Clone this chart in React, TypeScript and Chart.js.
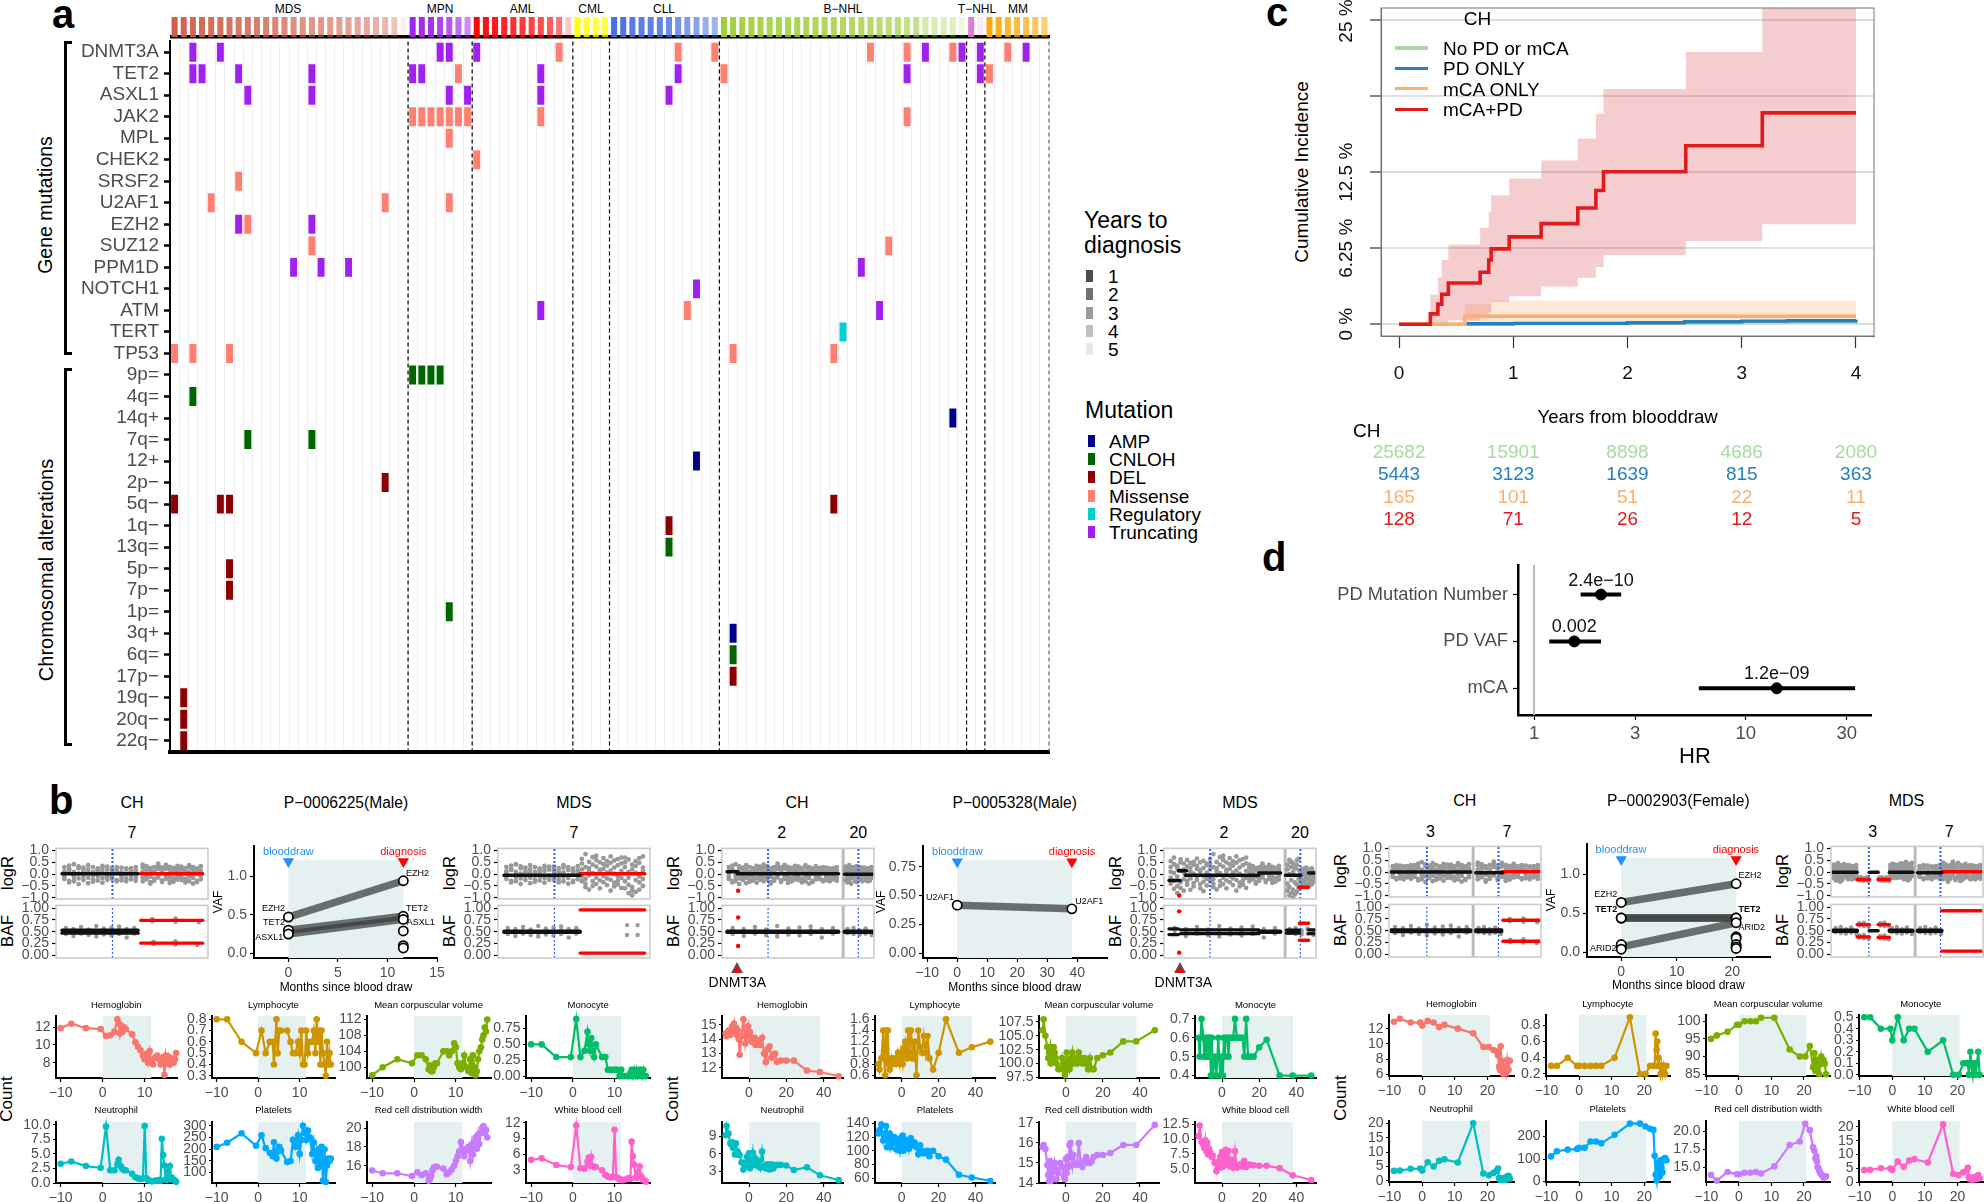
import React, { useEffect, useRef } from "react";
import { Chart, registerables } from "chart.js";

Chart.register(...registerables);

const FONT = '"Liberation Sans", Arial, sans-serif';
Chart.defaults.font.family = FONT;
const GREY = "#4d4d4d";

/* ---------- panel a data ---------- */
const geneRows = ["DNMT3A", "TET2", "ASXL1", "JAK2", "MPL", "CHEK2", "SRSF2", "U2AF1", "EZH2", "SUZ12", "PPM1D", "NOTCH1", "ATM", "TERT", "TP53"];
const chromRows = ["9p=", "4q=", "14q+", "7q=", "12+", "2p−", "5q−", "1q−", "13q=", "5p−", "7p−", "1p=", "3q+", "6q=", "17p−", "19q−", "20q−", "22q−"];
const truncating: any = {
  DNMT3A: [2, 5, 29, 30, 33, 82, 86, 88, 93], TET2: [2, 3, 7, 15, 26, 27, 40, 55, 80, 88], ASXL1: [8, 15, 30, 32, 40, 54],
  EZH2: [7, 15], PPM1D: [13, 16, 19, 75], NOTCH1: [57], ATM: [40, 77],
};
const missense: any = {
  DNMT3A: [42, 55, 59, 76, 80, 85, 91], TET2: [31, 60, 89], JAK2: [26, 27, 28, 29, 30, 31, 32, 40, 80], MPL: [30], CHEK2: [33],
  SRSF2: [7], U2AF1: [4, 23, 30], EZH2: [8], SUZ12: [15, 78], ATM: [56], TP53: [0, 2, 6, 61, 72],
};
const regulatory: any = { TERT: [73] };
const cnloh: any = { "9p=": [26, 27, 28, 29], "4q=": [2], "7q=": [8, 15], "13q=": [54], "1p=": [30], "6q=": [61] };
const amp: any = { "14q+": [85], "12+": [57], "3q+": [61] };
const del: any = {
  "2p−": [23], "5q−": [0, 5, 6, 72], "1q−": [54], "5p−": [6], "7p−": [6], "17p−": [61], "19q−": [1], "20q−": [1], "22q−": [1],
};
const groupNames = ["MDS", "MPN", "AML", "CML", "CLL", "B−NHL", "T−NHL", "MM"];
const groupLabelX = [288, 440, 522, 591, 664, 843, 977, 1018];
const groupBases = ["205,91,69", "160,32,240", "255,0,0", "255,255,0", "65,105,225", "154,205,50", "218,112,214", "255,165,0"];
const yearsMDS = [0.2, 0.3, 0.4, 0.5, 0.6, 0.7, 0.8, 0.9, 1.0, 1.1, 1.2, 1.3, 1.5, 1.6, 1.7, 1.8, 1.9, 2, 2.1, 2.2, 2.3, 2.4, 2.6, 2.8, 3.2, 4.6];
const yearsMPN = [0.1, 0.2, 0.4, 0.8, 1.2, 1.7, 2.4];
const yearsAML = [0.1, 0.3, 0.5, 0.7, 0.9, 1.1, 1.3, 1.5, 1.8, 2.3, 3.9];
const yearsCML = [0.2, 0.9, 1.2, 1.4];
const yearsCLL = [0.2, 0.4, 0.6, 0.7, 0.8, 0.9, 1.1, 1.4, 1.7, 1.9, 2.3, 2.5];
const yearsBNHL = [0.2, 0.4, 0.5, 0.6, 0.7, 0.75, 0.8, 0.85, 0.9, 0.95, 1, 1.05, 1.1, 1.15, 1.2, 1.3, 1.4, 1.5, 1.6, 1.7, 2, 2.1, 2.9, 3.1, 3.3, 3.5, 4.2];
const yearsTNHL = [0.4, 4.2];
const yearsMM = [0.1, 0.5, 0.9, 1.3, 1.6, 1.9, 2.2];
const groupYears = [yearsMDS, yearsMPN, yearsAML, yearsCML, yearsCLL, yearsBNHL, yearsTNHL, yearsMM];
const yearLegend = ["1", "2", "3", "4", "5"];
const yearLegendColors = ["#4d4d4d", "#707070", "#9a9a9a", "#c0c0c0", "#e8e8e8"];
const mutLegend = ["AMP", "CNLOH", "DEL", "Missense", "Regulatory", "Truncating"];
const mutColors = ["#00008B", "#006400", "#8B0000", "#FF8070", "#00CED1", "#A020F0"];

/* ---------- panel c data ---------- */
const kmRedT = [0, 0.274, 0.34, 0.374, 0.432, 0.71, 0.785, 0.806, 0.964, 1.244, 1.565, 1.723, 1.79, 2.51, 3.18, 4];
const kmRedEst = [0, 0.85, 1.65, 2.46, 3.39, 4.27, 5.28, 6.2, 7.18, 8.27, 9.56, 11.0, 12.54, 14.68, 17.38, 17.38];
const kmRedUp = [0, 2.42, 3.87, 5.28, 6.53, 7.94, 9.27, 10.6, 11.98, 13.47, 15.28, 17.3, 19.35, 22.4, 30, 30];
const kmRedLo = [0, 0, 0, 0.05, 0.3, 0.5, 1, 1.85, 2.3, 3.1, 3.83, 4.7, 5.69, 6.85, 8.23, 8.23];
const kmOrangeT = [0, 0.575, 0.8, 4];
const kmOrangeEst = [0, 0.65, 0.65, 0.65];
const kmOrangeUp = [0, 1.65, 1.95, 1.95];
const kmOrangeLo = [0, 0.1, 0.1, 0.1];
const kmBlueT = [0.59, 1, 2, 2.5, 3, 3.4, 4];
const kmBlueEst = [0.04, 0.07, 0.12, 0.2, 0.25, 0.28, 0.36];
const kmGreenT = [0, 0.5, 1, 2, 3, 4];
const kmGreenEst = [0, 0.02, 0.05, 0.1, 0.18, 0.25];
const kmTicksX = [0, 1, 2, 3, 4];
const kmTicksY = [0, 6.25, 12.5, 18.75, 25];
const kmLabelsY: [number, string][] = [[0, "0 %"], [6.25, "6.25 %"], [12.5, "12.5 %"], [25, "25 %"]];
const kmNames = ["No PD or mCA", "PD ONLY", "mCA ONLY", "mCA+PD"];
const kmColors = ["#A6DBA0", "#2480BE", "#FDAE6B", "#E31A1C"];
const riskGreen = ["25682", "15901", "8898", "4686", "2080"];
const riskBlue = ["5443", "3123", "1639", "815", "363"];
const riskOrange = ["165", "101", "51", "22", "11"];
const riskRed = ["128", "71", "26", "12", "5"];

/* ---------- panel d data ---------- */
const forestNames = ["PD Mutation Number", "PD VAF", "mCA"];
const forestHR = [2.07, 1.55, 13.99];
const forestLow = [1.66, 1.18, 6.0];
const forestHigh = [2.58, 2.07, 32.8];
const forestP = ["2.4e−10", "0.002", "1.2e−09"];
const forestTicks = [1, 3, 10, 30];

/* ---------- panel b: copy-number scatter ---------- */
const quietA = [0.12, -0.2, 0.3, -0.1, 0.05, 0.36, -0.28, 0.18, -0.35, 0.22, -0.05, 0.1, 0.42, -0.12, -0.3, 0.25, 0.02, -0.18, 0.33, -0.42, 0.08, -0.25, 0.15, 0.28, -0.08, -0.38, 0.2, 0.05, -0.15, 0.38, -0.22, 0.1, -0.03, 0.3, -0.32, 0.17, -0.1, 0.24, -0.27, 0.06, 0.35, -0.16, 0.13, -0.36, 0.27, -0.06, 0.19, -0.24, 0.32, -0.13];
const quietB = [-0.15, 0.28, 0.1, -0.3, 0.4, -0.08, 0.2, -0.22, 0.34, 0.03, -0.34, 0.16, -0.11, 0.26, -0.4, 0.07, 0.3, -0.19, 0.12, -0.28, 0.37, -0.04, 0.22, -0.14, 0.44, -0.26, 0.09, 0.29, -0.33, 0.14, -0.07, 0.24, -0.2, 0.39, 0.01, -0.29, 0.18, -0.12, 0.31, -0.37, 0.11, 0.27, -0.17, 0.06, -0.31, 0.35, -0.09, 0.21, -0.23, 0.15];
const quietC = [0.2, -0.25, 0.1, 0.32, -0.12, -0.35, 0.26, 0.04, -0.2, 0.15, 0.38, -0.3, 0.08, -0.1, 0.28, -0.4, 0.18, -0.05, 0.3, -0.16, 0.12, -0.28, 0.24, 0.02, -0.34, 0.34, -0.08, 0.16, -0.22, 0.06];
const wideA = [0.3, -0.4, 0.55, -0.15, 0.1, -0.62, 0.42, -0.28, 0.7, 0.05, -0.5, 0.25, -0.8, 0.36, -0.1, 0.5, -0.35, 0.62, 0.15, -0.58, 0.2, -0.22, 0.45, -0.7, 0.08, 0.33, -0.45, 0.6, -0.05, -0.3, 0.48, 0.12, -0.66, 0.28, -0.18, 0.52, -0.38, 0.02, 0.4, -0.52, 0.22, -0.12, 0.66, -0.25, 0.35, -0.6, 0.1, 0.5, -0.42, 0.18, -0.08, 0.56, -0.32, 0.26, -0.72, 0.44, 0.06, -0.2, 0.38, -0.48];
const wideB = [-0.3, 0.45, -0.1, 0.65, 0.2, -0.55, 0.3, -0.2, 0.85, -0.4, 0.12, 0.52, -0.65, 0.25, -0.05, 0.72, -0.3, 0.4, 0.04, -0.5, 0.6, -0.15, 0.32, -0.42, 0.78, 0.1, -0.26, 0.5, -0.6, 0.18, 0.42, -0.08, -0.34, 0.68, 0.22, -0.46, 0.06, 0.55, -0.18, 0.36, -0.7, 0.15, 0.48, -0.24, 0.75, -0.36, 0.02, 0.58, -0.52, 0.28, -0.1, 0.64, -0.28, 0.38, -0.44, 0.14, 0.7, -0.16, 0.46, -0.58];
const wideC = [0.5, -0.6, 0.3, -0.3, 0.7, -0.8, 0.1, -0.45, 0.62, -0.15, -0.7, 0.4, -0.9, 0.2, -0.55, 0.55, -0.25, -0.75, 0.35, 0.05, -0.65, 0.48, -0.35, 0.68, -0.1, 0.28, -0.5, 0.75, 0.15, -0.2];
const tightA = [0.1, -0.2, 0.25, -0.12, 0.05, 0.3, -0.25, 0.15, -0.3, 0.18, -0.05, 0.1, 0.28, -0.12, -0.26, 0.2, 0.02, -0.18, 0.24, -0.3, 0.08, -0.22, 0.12, 0.26, -0.08, -0.28, 0.16, 0.04, -0.15, 0.3];
const bafA = [0.03, -0.05, 0.08, -0.02, 0.06, -0.09, 0.01, 0.1, -0.04, 0.05, -0.07, 0.02, 0.12, -0.03, -0.1, 0.04, 0.07, -0.06, 0.09, -0.01, -0.08, 0.03, 0.11, -0.05, 0.06, -0.12, 0.02, 0.05, -0.04, 0.08];
const bafB = [0.04, -0.03, 0.06, -0.05, 0.02, 0.08, -0.02, -0.06, 0.03, 0.05, -0.04, 0.07, -0.01, -0.07];
const bafC = [0.02, -0.02, 0.03, -0.03, 0.01, 0.04, -0.01, -0.04];
const centromereP1 = [57];
const centromereP2 = [89, 285];
const centromereP3 = [89, 267];

/* ---------- panel b: VAF lines ---------- */
const vafP1Genes = ["EZH2", "TET2", "ASXL1"];
const vafP1Start = [0.47, 0.3, 0.25];
const vafP1End = [0.94, 0.48, 0.44];
const vafP1ExtraEnd = [0.29, 0.1, 0.07];
const vafP2Genes = ["U2AF1"];
const vafP2Start = [0.416];
const vafP2End = [0.384];
const vafP3Genes = ["EZH2", "TET2", "TET2", "ARID2"];
const vafP3Start = [0.64, 0.44, 0.44, 0.07];
const vafP3End = [0.88, 0.44, 0.44, 0.38];
const vafP3ExtraStart = [0.1, 0.04];
const vafP3ExtraEnd = [0.2, 0.18, 0.1, 0.07, 0.05];

/* ---------- panel b: blood counts ---------- */
const bloodNames = ["Hemoglobin", "Lymphocyte", "Mean corpuscular volume", "Monocyte", "Neutrophil", "Platelets", "Red cell distribution width", "White blood cell"];
const bloodColors = ["#F8766D", "#CD9600", "#7CAE00", "#00BE67", "#00BFC4", "#00A9FF", "#C77CFF", "#FF61CC"];

const monthsP1 = [-10, -7.5, -4, -0.5, 0.8, 1.8, 2.8, 3.5, 3.8, 4.1, 4.4, 4.7, 5.1, 5.5, 7, 7.8, 8.4, 9, 9.6, 10, 10.4, 10.8, 11.2, 11.6, 12, 12.5, 13, 13.4, 13.8, 14.1, 14.4, 14.7, 15, 15.3, 15.6, 16, 16.3, 16.6, 16.9, 17.2, 17.5];
const hbP1 = [11.9, 12.4, 11.9, 11.8, 11.0, 11.1, 11.5, 12.9, 12.4, 11.3, 12.2, 11.5, 12.0, 11.8, 11.2, 10.3, 9.8, 9.4, 8.8, 8.4, 9.0, 8.0, 9.3, 8.2, 7.8, 8.6, 8.8, 8.4, 7.8, 8.4, 8.6, 6.6, 8.8, 8.0, 8.7, 7.8, 8.5, 8.4, 8.0, 8.4, 9.1];
const lymP1 = [0.8, 0.8, 0.6, 0.5, 0.7, 0.5, 0.6, 0.6, 0.4, 0.6, 0.8, 0.5, 0.7, 0.7, 0.7, 0.6, 0.5, 0.5, 0.6, 0.5, 0.7, 0.4, 0.4, 0.7, 0.5, 0.6, 0.6, 0.7, 0.5, 0.8, 0.6, 0.7, 0.4, 0.7, 0.5, 0.4, 0.3, 0.6, 0.4, 0.5, 0.4];
const mcvP1 = [98, 100, 102, 101, 103, 103, 102, 99.5, 100.5, 99, 99, 100, 101, 101, 104, 104, 103, 104, 106, 105, 101, 100, 99.5, 101, 103, 100, 99, 102, 98.5, 103, 100, 98, 99, 102, 104, 105, 107, 108, 110, 109, 112];
const monoP1 = [0.5, 0.5, 0.3, 0.3, 0.9, 0.3, 0.4, 0.7, 0.5, 0.4, 0.6, 0.4, 0.3, 0.5, 0.3, 0.3, 0.1, 0.1, 0.1, 0.1, 0.1, 0.1, 0, 0.1, 0, 0, 0, 0, 0.05, 0.1, 0, 0.1, 0, 0.1, 0, 0.1, 0.1, 0, 0.1, 0, 0];
const neutP1 = [3.3, 3.7, 2.9, 2.6, 9.7, 2.2, 2.2, 3.2, 4.0, 3.0, 2.8, 2.4, 2.2, 2.2, 1.6, 1.0, 0.8, 0.7, 0.8, 9.8, 0.8, 0.5, 0.4, 0.3, 0.3, 0.4, 0.4, 0.5, 0.4, 7.6, 4.8, 3.0, 0.6, 0.5, 2.0, 2.9, 1, 0.8, 0.5, 0.4, 0.2];
const pltP1 = [210, 228, 268, 215, 260, 205, 185, 170, 230, 175, 160, 190, 210, 195, 145, 150, 240, 210, 260, 180, 240, 300, 270, 240, 280, 250, 180, 230, 150, 190, 120, 200, 130, 210, 65, 200, 60, 130, 160, 150, 160];
const rdwP1 = [15.5, 15.2, 15.2, 14.9, 15.3, 15.0, 15.2, 14.4, 14.6, 14.9, 15.5, 15.8, 15.9, 15.9, 15.7, 15.1, 15.3, 15.6, 16, 16.5, 17, 17.5, 18.5, 17.8, 17, 17.6, 18, 16.5, 18.3, 17.2, 18.5, 19, 17.8, 19.3, 18.3, 19.5, 20, 20.2, 19.5, 19.8, 19];
const wbcP1 = [4.9, 5.2, 3.9, 3.5, 11.5, 3.3, 3.2, 4.5, 5.3, 3.8, 5.5, 3.7, 3.5, 3.5, 2.9, 2, 1.7, 1.5, 1.6, 10.7, 1.6, 1.3, 1.2, 1, 1, 1.1, 1.2, 1.4, 1.2, 8.4, 5.6, 4, 1.5, 1.4, 2.5, 3.6, 1.8, 1.4, 1, 0.9, 0.7];

const monthsP2 = [-12.5, -12, -11, -10, -9.5, -9, -8.5, -8, -7.5, -7, -6.5, -6, -5.5, -5, -4, -3, -2, -1, -0.5, 0, 0.5, 1, 1.5, 2, 2.5, 3, 3.5, 4, 5, 6, 7, 8, 9, 10, 11, 12, 13, 14, 15, 17, 20, 24, 31, 38, 48];
const hbP2 = [14.4, 14.2, 14.6, 14.3, 14.5, 14.9, 14.7, 15.1, 14.5, 14.8, 14.3, 14.6, 14.0, 12.9, 14.2, 15.4, 13.7, 14.5, 14.9, 14.2, 14.5, 13.9, 14.1, 13.8, 14.0, 14.1, 13.6, 13.7, 13.9, 13.6, 14.1, 13.0, 12.4, 13.3, 13.5, 12.7, 12.9, 13.0, 12.4, 12.5, 12.5, 12.5, 11.8, 11.7, 11.4];
const lymP2 = [0.8, 0.7, 0.9, 1.4, 0.9, 0.6, 1.4, 0.9, 1.4, 0.8, 0.7, 0.8, 0.9, 0.8, 0.9, 0.8, 1.0, 0.8, 1.0, 0.9, 0.8, 1.0, 1.1, 1.2, 1.1, 0.9, 1.4, 1.0, 1.4, 0.9, 1.2, 0.6, 1.4, 1.1, 1.0, 1.3, 1.0, 1.3, 0.9, 0.7, 1.0, 1.6, 1.0, 1.1, 1.2];
const mcvP2 = [106, 108, 105, 103, 101, 102, 103, 100, 101, 103, 103, 102, 101, 100, 99, 99, 101, 99, 98, 100, 102, 99, 100, 99, 100, 101, 102, 100, 101, 100, 102, 101, 100, 101, 100, 99, 101, 99, 99, 101, 101.5, 102, 104, 104, 106];
const monoP2 = [0.6, 0.5, 0.7, 0.6, 0.5, 0.6, 0.5, 0.6, 0.6, 0.5, 0.6, 0.4, 0.6, 0.4, 0.5, 0.4, 0.6, 0.4, 0.4, 0.5, 0.4, 0.6, 0.5, 0.6, 0.6, 0.6, 0.5, 0.6, 0.6, 0.6, 0.7, 0.6, 0.6, 0.6, 0.6, 0.5, 0.7, 0.5, 0.5, 0.5, 0.55, 0.59, 0.4, 0.4, 0.4];
const neutP2 = [9.2, 10.8, 9.5, 7.8, 7.6, 8.0, 7, 7.2, 5.9, 7.8, 6.5, 6.3, 5.8, 5.8, 4.5, 3.3, 4.5, 5.5, 4.0, 6.1, 3.5, 4.8, 5.0, 6.2, 4.2, 4.5, 5.2, 4.0, 4.8, 3.6, 6.4, 3.8, 3.5, 4.2, 3.3, 4.2, 3.5, 4.0, 4.1, 4.1, 4.0, 3.2, 3.7, 2.3, 1.5];
const pltP2 = [125, 130, 138, 115, 122, 125, 136, 105, 118, 112, 125, 105, 110, 115, 120, 102, 115, 100, 118, 105, 122, 100, 112, 108, 115, 110, 115, 103, 118, 108, 112, 105, 95, 108, 100, 96, 98, 100, 92, 100, 92, 87, 65, 61, 56];
const rdwP2 = [15.8, 15.9, 15.7, 14.9, 14.4, 14.1, 15.1, 14.1, 14.8, 14.2, 14.6, 15, 14.7, 14.2, 14.5, 15, 14.8, 14.3, 14.2, 15.2, 14.5, 15.3, 14.8, 15.9, 16, 15.3, 14.9, 15.4, 15, 14.9, 16, 15, 14.8, 15.1, 15.3, 15, 15, 15.1, 15.3, 15.4, 15.4, 15.5, 15.9, 15.9, 16.9];
const wbcP2 = [10.5, 12.3, 9.5, 9.0, 8.5, 9.8, 8, 9.4, 7.4, 8.4, 7.8, 7.3, 7, 7.2, 6, 4.6, 6.2, 7.0, 5.2, 7.8, 5.4, 6.2, 6.8, 8.2, 6, 6.5, 8, 5.5, 6.5, 5.2, 8, 5.2, 5.5, 5.8, 5.4, 6.3, 5.3, 5.6, 5.7, 5.6, 5.5, 5.5, 5.1, 3.9, 3.1];

const monthsP3 = [-8.6, -6.8, -3.5, -0.6, 0, 1.7, 3.5, 5.2, 6.8, 10.9, 15.6, 18.7, 20.4, 21.8, 22.8, 23.2, 23.5, 23.8, 24, 24.2, 24.4, 24.7, 25, 25.3, 25.6, 26, 26.4, 26.8];
const hbP3 = [12.9, 13.3, 12.8, 12.8, 12.4, 13, 12.8, 12.2, 12.5, 12, 11.4, 9.6, 9.6, 9.2, 9, 8.5, 7, 6.6, 9.7, 7.8, 7.2, 6.1, 6.5, 7, 6.2, 7.9, 6.6, 7.8];
const lymP3 = [0.3, 0.3, 0.4, 0.3, 0.3, 0.3, 0.3, 0.3, 0.3, 0.4, 0.9, 0.2, 0.2, 0.3, 0.3, 0.3, 0.7, 0.5, 0.6, 0.3, 0.4, 0.3, 0.2, 0.3, 0.2, 0.3, 0.2, 0.3];
const mcvP3 = [95, 96, 97, 99, 99, 100, 100, 100, 101, 101, 92, 90, 90, 93, 87, 91, 86, 89, 88, 86, 88, 85, 88, 90, 88, 89, 88, 85];
const monoP3 = [0.5, 0.5, 0.4, 0.4, 0.3, 0.5, 0.3, 0.4, 0.4, 0.2, 0.3, 0, 0, 0.1, 0.1, 0.1, 0, 0.1, 0.2, 0.1, 0.1, 0, 0.1, 0.1, 0, 0.1, 0.2, 0];
const neutP3 = [3.5, 3.6, 4.2, 4.3, 3.6, 6.5, 5, 7, 7.5, 6.4, 20, 2.6, 2, 2.8, 3.5, 4.3, 1, 0.4, 0.8, 0.9, 0.5, 0.4, 0.7, 1.2, 0.4, 1.5, 1.8, 0.8];
const pltP3 = [112, 135, 142, 145, 150, 150, 178, 178, 170, 208, 258, 258, 245, 235, 230, 115, 30, 5, 85, 45, 20, 25, 95, 60, 40, 100, 105, 95];
const rdwP3 = [13.9, 13.1, 14.3, 14, 14, 14.2, 14.2, 14.3, 14.1, 15.1, 18.1, 18.6, 21.1, 20.2, 17.8, 17.3, 16.2, 16.5, 15.8, 15, 14.9, 14.5, 14.2, 14, 13.8, 13.5, 13.6, 13.7];
const wbcP3 = [4.3, 4.4, 5, 4.9, 4.4, 7.4, 5.5, 7.8, 8.3, 7.1, 21, 3, 2.5, 3.5, 4.2, 5.2, 1.8, 1, 1.4, 1.5, 1, 0.9, 1.2, 1.8, 1, 2, 2.5, 1.3];

/* ---------- helpers ---------- */
const num = (v: number, d: number) => (v < 0 ? "−" : "") + Math.abs(v).toFixed(d);

function axis(o: any) {
  const a: any = {
    type: o.type || "linear",
    position: o.position,
    reverse: o.reverse,
    min: o.min,
    max: o.max,
    display: o.display === undefined ? true : o.display,
    afterBuildTicks: o.ticks ? (s: any) => { s.ticks = o.ticks.map((value: number) => ({ value })); } : undefined,
    afterFit: (s: any) => {
      if (o.fit === undefined) return;
      if (s.isHorizontal()) s.height = o.fit; else s.width = o.fit;
    },
    ticks: {
      display: o.showLabels === undefined ? true : o.showLabels,
      autoSkip: false,
      maxRotation: 0,
      minRotation: 0,
      padding: o.pad === undefined ? 3 : o.pad,
      color: o.color || GREY,
      font: { size: o.size || 14, family: FONT },
      callback: o.label || ((v: number) => String(v)),
    },
    grid: {
      display: true,
      drawOnChartArea: !!o.gridLine,
      color: o.gridLine || "rgba(0,0,0,0)",
      lineWidth: o.gridWidth || 1,
      drawTicks: o.tickLen !== 0,
      tickLength: o.tickLen === undefined ? 4 : o.tickLen,
      tickColor: o.tickColor || "#000",
      tickWidth: o.tickWidth || 1.2,
    },
    border: { display: o.borderW !== 0, color: o.borderColor || "#000", width: o.borderW === undefined ? 2 : o.borderW },
  };
  return a;
}

const shadePlugin = {
  id: "shade",
  beforeDatasetsDraw(chart: any, _a: any, o: any) {
    if (o.x1 === undefined) return;
    const { ctx, chartArea, scales } = chart;
    const l = scales.x.getPixelForValue(0);
    const r = scales.x.getPixelForValue(o.x1);
    const t = o.yTop === undefined ? chartArea.top : scales.y.getPixelForValue(o.yTop);
    ctx.save();
    ctx.fillStyle = "#E5F0F0";
    ctx.fillRect(l, t, r - l, chartArea.bottom - t);
    ctx.restore();
  },
};

const framePlugin = {
  id: "frame",
  afterDraw(chart: any, _a: any, o: any) {
    const { ctx, chartArea } = chart;
    ctx.save();
    ctx.strokeStyle = o.color || "#cccccc";
    ctx.lineWidth = o.width || 1.5;
    ctx.strokeRect(chartArea.left, chartArea.top, chartArea.right - chartArea.left, chartArea.bottom - chartArea.top);
    ctx.restore();
  },
};

function sepPlugin(sep: number) {
  return {
    id: "sep",
    beforeDatasetsDraw(chart: any) {
      const { ctx, chartArea, scales } = chart;
      const x = scales.x.getPixelForValue(sep);
      ctx.save();
      ctx.strokeStyle = "#bbbbbb";
      ctx.lineWidth = 3;
      ctx.beginPath();
      ctx.moveTo(x, chartArea.top);
      ctx.lineTo(x, chartArea.bottom);
      ctx.stroke();
      ctx.restore();
    },
  };
}

function baseOptions(scales: any, pad: any, plugins: any = {}) {
  return {
    responsive: false,
    maintainAspectRatio: false,
    animation: false,
    events: [],
    layout: { padding: pad },
    scales,
    plugins: { legend: { display: false }, tooltip: { enabled: false }, title: { display: false }, ...plugins },
  };
}

function Box({ rect, m, make }: any) {
  const ref = useRef<HTMLCanvasElement>(null);
  const [x0, y0, x1, y1] = rect;
  const [ml, mt, mr, mb] = m;
  const left = Math.round(x0);
  const top = Math.round(y0);
  const w = Math.round(x1) - left;
  const h = Math.round(y1) - top;
  useEffect(() => {
    const chart = new Chart(ref.current as any, make({ ml, mt, mr, mb }));
    return () => chart.destroy();
  }, []);
  return <canvas ref={ref} width={w + ml + mr} height={h + mt + mb} style={{ position: "absolute", left: left - ml, top: top - mt, display: "block" }} />;
}

function T({ x, y, s, c = "#000", a = "c", r, b, children }: any) {
  const tx = a === "l" ? "0" : a === "r" ? "-100%" : "-50%";
  return (
    <div
      style={{
        position: "absolute", left: x, top: y, fontSize: s, color: c, fontWeight: b ? "bold" : "normal", whiteSpace: "nowrap", lineHeight: 1,
        fontFamily: FONT, transform: `translate(${tx},-50%)` + (r ? ` rotate(${r}deg)` : ""),
      }}
    >
      {children}
    </div>
  );
}

function R({ x, y, w, h, c, extra }: any) {
  return <div style={{ position: "absolute", left: x, top: y, width: w, height: h, background: c, ...extra }} />;
}

/* ---------- panel a ---------- */
const ONCO_ROWS = [...geneRows, ...chromRows];
const COL_LABELS = Array.from({ length: 96 }, (_, i) => String(i));
const GROUP_EDGES = [26, 33, 44, 48, 60, 87, 89, 96];

function oncoSet(table: any, color: string) {
  const data: any[] = [];
  Object.keys(table).forEach((row) => {
    const r = ONCO_ROWS.indexOf(row);
    table[row].forEach((c: number) => data.push({ x: String(c), y: [r + 0.06, r + 0.94] }));
  });
  return { data, backgroundColor: color, barPercentage: 0.76, categoryPercentage: 1, grouped: false };
}

function makeOnco({ ml, mr, mt, mb }: any) {
  const dashes = {
    id: "dashes",
    afterDatasetsDraw(chart: any) {
      const { ctx, chartArea, scales } = chart;
      ctx.save();
      ctx.setLineDash([4, 3]);
      ctx.lineWidth = 1.2;
      GROUP_EDGES.forEach((e) => {
        const x = scales.x.getPixelForValue(e - 0.5);
        ctx.strokeStyle = e === 96 ? "#666" : "#000";
        ctx.beginPath();
        ctx.moveTo(x, chartArea.top);
        ctx.lineTo(x, chartArea.bottom);
        ctx.stroke();
      });
      ctx.restore();
    },
  };
  return {
    type: "bar",
    data: {
      labels: COL_LABELS,
      datasets: [oncoSet(truncating, mutColors[5]), oncoSet(missense, mutColors[3]), oncoSet(regulatory, mutColors[4]), oncoSet(cnloh, mutColors[1]), oncoSet(amp, mutColors[0]), oncoSet(del, mutColors[2])],
    },
    options: baseOptions(
      {
        x: {
          type: "category",
          offset: true,
          afterFit: (s: any) => { s.height = 2; },
          ticks: { display: false },
          grid: { offset: true, color: "#efefef", lineWidth: 1, drawTicks: false },
          border: { display: true, color: "#000", width: 4 },
        },
        y: axis({
          min: 0, max: 33, reverse: true, fit: ml, size: 19, tickLen: 6, tickWidth: 2.5, pad: 5,
          ticks: ONCO_ROWS.map((_, i) => i + 0.5),
          label: (v: number) => ONCO_ROWS[Math.round(v - 0.5)],
        }),
      },
      { top: mt, right: mr, bottom: mb - 2 },
    ),
    plugins: [dashes],
  };
}

function makeStrip({ ml, mr, mt }: any) {
  const values: number[] = [];
  const colors: string[] = [];
  groupYears.forEach((ys, g) => ys.forEach((yr) => {
    values.push(1);
    colors.push(`rgba(${groupBases[g]},${(1 - yr / 5).toFixed(3)})`);
  }));
  return {
    type: "bar",
    data: { labels: COL_LABELS, datasets: [{ data: values, backgroundColor: colors, barPercentage: 0.66, categoryPercentage: 1 }] },
    options: baseOptions(
      {
        x: {
          type: "category",
          afterFit: (s: any) => { s.height = 2; },
          ticks: { display: false },
          grid: { display: false },
          border: { display: true, color: "#000", width: 3.5 },
        },
        y: { display: false, min: 0, max: 1 },
      },
      { left: ml, top: mt, right: mr, bottom: 0 },
    ),
  };
}

/* ---------- panel c ---------- */
const xy = (t: number[], v: number[]) => t.map((x, i) => ({ x, y: v[i] }));

function makeKM({ ml, mr, mt, mb }: any) {
  const riskRows = [riskGreen, riskBlue, riskOrange, riskRed];
  const riskY = [116.3, 139, 161.6, 184.1];
  const extras = {
    id: "kmExtras",
    afterDraw(chart: any) {
      const { ctx, chartArea, scales } = chart;
      ctx.save();
      ctx.textAlign = "center";
      ctx.textBaseline = "middle";
      ctx.font = `19px ${FONT}`;
      riskRows.forEach((row, r) => {
        ctx.fillStyle = kmColors[r];
        row.forEach((txt, i) => ctx.fillText(txt, scales.x.getPixelForValue(kmTicksX[i]), chartArea.bottom + riskY[r]));
      });
      ctx.fillStyle = "#111";
      kmLabelsY.forEach(([v, txt]) => {
        ctx.save();
        ctx.translate(chartArea.left - 34, Math.max(scales.y.getPixelForValue(v), 21));
        ctx.rotate(-Math.PI / 2);
        ctx.fillText(txt, 0, 0);
        ctx.restore();
      });
      ctx.restore();
    },
  };
  const line = (t: number[], v: number[], color: string, w = 3.4) => ({
    data: xy(t, v), showLine: true, stepped: true, borderColor: color, borderWidth: w, pointRadius: 0, fill: false,
  });
  const band = (t: number[], v: number[], fillTo: any, color: string) => ({
    data: xy(t, v), showLine: true, stepped: true, borderWidth: 0, borderColor: "rgba(0,0,0,0)", pointRadius: 0, fill: fillTo, backgroundColor: color,
  });
  return {
    type: "scatter",
    data: {
      datasets: [
        line(kmRedT, kmRedEst, kmColors[3], 3.6),
        line(kmOrangeT, kmOrangeEst, kmColors[2]),
        line(kmBlueT, kmBlueEst, kmColors[1]),
        line(kmGreenT, kmGreenEst, kmColors[0]),
        band(kmRedT, kmRedUp, "+1", "rgba(220,60,70,0.26)"),
        band(kmRedT, kmRedLo, false, "rgba(0,0,0,0)"),
        band(kmOrangeT, kmOrangeUp, "+1", "rgba(253,174,107,0.28)"),
        band(kmOrangeT, kmOrangeLo, false, "rgba(0,0,0,0)"),
      ],
    },
    options: baseOptions(
      {
        x: axis({
          min: -0.158, max: 4.158, ticks: kmTicksX, fit: mb, size: 19, color: "#111", tickLen: 12, pad: 14, tickColor: "#333", borderW: 1, borderColor: "#666",
        }),
        y: axis({
          min: -0.97, max: 26.01, ticks: kmTicksY, fit: ml, showLabels: false, tickLen: 11, tickColor: "#333", borderW: 1, borderColor: "#666", gridLine: "#dddddd", gridWidth: 2,
        }),
      },
      { top: mt, right: mr },
      { frame: { color: "#777", width: 1 } },
    ),
    plugins: [framePlugin, extras],
  };
}

/* ---------- panel d ---------- */
function makeForest({ ml, mr, mt, mb }: any) {
  const labels = {
    id: "forestLabels",
    afterDraw(chart: any) {
      const { ctx, scales } = chart;
      ctx.save();
      ctx.textAlign = "center";
      ctx.textBaseline = "middle";
      ctx.font = `18px ${FONT}`;
      ctx.fillStyle = "#111";
      forestP.forEach((p, i) => ctx.fillText(p, scales.x.getPixelForValue(forestHR[i]), scales.y.getPixelForValue(i) - 14));
      ctx.restore();
    },
  };
  const intervals = forestNames.map((_, i) => ({
    data: [{ x: forestLow[i], y: i }, { x: forestHigh[i], y: i }],
    showLine: true, borderColor: "#000", borderWidth: 4, pointRadius: 0,
  }));
  return {
    type: "scatter",
    data: {
      datasets: [
        { data: forestHR.map((x, i) => ({ x, y: i })), pointRadius: 5.5, backgroundColor: "#000", borderColor: "#000" },
        ...intervals,
        { data: [{ x: 1, y: -0.63 }, { x: 1, y: 2.57 }], showLine: true, borderColor: "#bbbbbb", borderWidth: 2, pointRadius: 0 },
      ],
    },
    options: baseOptions(
      {
        x: axis({ type: "logarithmic", min: 0.84, max: 39, ticks: forestTicks, fit: mb, size: 18.5, tickLen: 5, pad: 3, borderW: 2.5 }),
        y: axis({
          min: -0.63, max: 2.57, reverse: true, ticks: [0, 1, 2], fit: ml, size: 18.3, tickLen: 5, pad: 5, borderW: 2.5,
          label: (v: number) => forestNames[v],
        }),
      },
      { top: mt, right: mr },
    ),
    plugins: [labels],
  };
}

/* ---------- panel b: copy number ---------- */
// probes sit in small clumps of k, as the reference's vertical smears do
const spread = (s: number, e: number, level: number, dev: number[], k = 3) =>
  dev.map((d, i) => ({ x: s + ((e - s) * (Math.floor(i / k) * k + k / 2)) / dev.length, y: level + d }));

const BLK = "#111111";
const RED = "#FF0000";

function makeCN(spec: any) {
  return ({ ml, mr, mt, mb }: any) => {
    const isLog = spec.kind === "logR";
    const segSets = spec.segs.map(([a, b, y, col]: any) => ({
      data: [{ x: a, y }, { x: b, y }], showLine: true, borderColor: col, borderWidth: isLog ? 3.5 : 3.4, pointRadius: 0, borderCapStyle: "round",
    }));
    const dots = spec.dots ? [{ data: spec.dots.map(([x, y]: any) => ({ x, y })), pointRadius: 2.2, backgroundColor: RED, borderWidth: 0 }] : [];
    const cent = spec.cent.map((x: number) => ({
      data: [{ x, y: isLog ? -1.05 : -0.05 }, { x, y: isLog ? 1.09 : 1.05 }],
      showLine: true, borderColor: "rgb(40,90,255)", borderWidth: isLog ? 2 : 1.2, borderDash: [2, 2], pointRadius: 0,
    }));
    return {
      type: "scatter",
      data: {
        datasets: [
          ...segSets,
          ...dots,
          ...cent,
          { data: spec.gray, pointRadius: isLog ? 2.4 : 2.2, backgroundColor: "#999999", borderWidth: 0 },
        ],
      },
      options: baseOptions(
        {
          x: { type: "linear", display: false, min: spec.xr[0], max: spec.xr[1] },
          y: isLog
            ? axis({ min: -1.05, max: 1.09, ticks: [-1, -0.5, 0, 0.5, 1], fit: ml, size: 14, label: (v: number) => num(v, 1), borderW: 0, tickLen: 4, pad: 3 })
            : axis({ min: -0.053, max: 1.055, ticks: [0, 0.25, 0.5, 0.75, 1], fit: ml, size: 14, label: (v: number) => num(v, 2), borderW: 0, tickLen: 4, pad: 3 }),
        },
        { top: mt, right: mr, bottom: mb },
        { frame: { color: "#cccccc", width: 1.6 } },
      ),
      plugins: [framePlugin, ...(spec.sep !== undefined ? [sepPlugin(spec.sep)] : [])],
    };
  };
}

const XR1 = [-6.8, 165];
const XR2 = [-11, 319];
const XR3 = [-5, 372.6];
const both = (a: number[], b: number[]) => [...a, ...b];

const cnPanels: any[] = [
  // P1 CH
  { rect: [56.4, 846.7, 208, 899], kind: "logR", xr: XR1, cent: centromereP1, segs: [[0, 86, 0.02, BLK], [89, 159, 0.02, RED]], gray: [...spread(0, 86, 0, both(quietA, tightA), 5), ...spread(89, 159, 0, both(quietB, quietC), 5)] },
  { rect: [56.4, 904.3, 208, 958.3], kind: "BAF", xr: XR1, cent: centromereP1, segs: [[0, 86, 0.47, BLK], [0, 86, 0.53, BLK], [89, 159, 0.74, RED], [89, 159, 0.26, RED]], gray: [...spread(0, 86, 0.5, bafA), ...spread(89, 159, 0.74, bafC), ...spread(91, 157, 0.26, bafC)] },
  // P1 MDS
  { rect: [498, 846.7, 650.3, 899], kind: "logR", xr: XR1, cent: centromereP1, segs: [[0, 86, -0.05, BLK], [86, 159, 0.02, RED]], gray: [...spread(0, 86, 0, both(quietA, quietC), 5), ...spread(86, 159, 0, both(wideB, wideC), 5)] },
  { rect: [498, 904.3, 650.3, 958.3], kind: "BAF", xr: XR1, cent: centromereP1, segs: [[0, 86, 0.49, BLK], [0, 86, 0.51, BLK], [86, 159, 0.96, RED], [86, 159, 0.05, RED]], gray: [...spread(0, 86, 0.5, bafA), { x: 139, y: 0.64 }, { x: 151, y: 0.64 }, { x: 139, y: 0.43 }, { x: 151, y: 0.43 }] },
  // P2 CH
  { rect: [722, 846.7, 873.6, 899], kind: "logR", xr: XR2, cent: centromereP2, sep: 252, dots: [[24, -0.7]], segs: [[0, 24, 0.1, BLK], [22, 242, 0.02, BLK], [255, 316, 0, BLK]], gray: [...spread(0, 242, 0, [...quietA, ...quietB, ...quietC, ...tightA], 5), ...spread(255, 316, 0, both(quietC, tightA), 4)] },
  { rect: [722, 904.3, 873.6, 958.3], kind: "BAF", xr: XR2, cent: centromereP2, sep: 252, dots: [[24, 0.8], [24, 0.2]], segs: [[0, 242, 0.49, BLK], [0, 242, 0.51, BLK], [255, 316, 0.49, BLK], [255, 316, 0.51, BLK]], gray: [...spread(0, 242, 0.5, bafA), ...spread(255, 316, 0.5, bafB)] },
  // P2 MDS
  { rect: [1163.8, 846.7, 1316, 899], kind: "logR", xr: XR2, cent: centromereP2, sep: 252, dots: [[22, -0.9]], segs: [[0, 24, -0.27, BLK], [20, 38, 0.15, BLK], [35, 195, -0.05, BLK], [195, 242, 0.05, BLK], [253, 286, -0.05, BLK], [282, 303, -0.55, RED], [303, 316, 0.05, BLK]], gray: [...spread(0, 242, 0, [...wideA, ...wideB, ...quietB], 5), ...spread(255, 316, -0.1, both(wideC, quietC), 4)] },
  { rect: [1163.8, 904.3, 1316, 958.3], kind: "BAF", xr: XR2, cent: centromereP2, sep: 252, dots: [[22, 0.93], [22, 0.06]], segs: [[0, 20, 0.44, BLK], [0, 20, 0.56, BLK], [25, 195, 0.46, BLK], [25, 195, 0.54, BLK], [195, 242, 0.49, BLK], [195, 242, 0.51, BLK], [255, 283, 0.47, BLK], [255, 283, 0.53, BLK], [283, 303, 0.68, RED], [283, 303, 0.32, RED], [303, 316, 0.46, BLK], [303, 316, 0.54, BLK]], gray: [...spread(0, 242, 0.5, bafA), ...spread(255, 316, 0.5, bafB)] },
  // P3 CH
  { rect: [1389, 845, 1541, 897.3], kind: "logR", xr: XR3, cent: centromereP3, sep: 204, segs: [[0, 198, 0.01, BLK], [210.5, 277.5, -0.02, BLK], [277.5, 369.5, 0.02, RED]], gray: [...spread(0, 198, 0, [...tightA, ...quietA, ...quietC], 5), ...spread(210.5, 369.5, 0, both(quietB, tightA), 5)] },
  { rect: [1389, 903.3, 1541, 956.7], kind: "BAF", xr: XR3, cent: centromereP3, sep: 204, segs: [[0, 198, 0.485, BLK], [0, 198, 0.515, BLK], [210.5, 275, 0.485, BLK], [210.5, 275, 0.515, BLK], [278, 369, 0.72, RED], [278, 369, 0.28, RED]], gray: [...spread(0, 198, 0.5, bafA), ...spread(210.5, 275, 0.5, bafB), ...spread(278, 369, 0.72, bafC), ...spread(280, 367, 0.28, bafC)] },
  // P3 MDS
  { rect: [1831, 845, 1983, 897.3], kind: "logR", xr: XR3, cent: centromereP3, sep: 204, segs: [[0, 60, 0, BLK], [60, 90, -0.31, RED], [90, 112, 0, BLK], [112, 140, -0.31, RED], [140, 198, 0, BLK], [210, 270, -0.02, BLK], [270, 369, 0.02, RED]], gray: [...spread(0, 60, 0, both(quietC, tightA), 5), ...spread(60, 90, -0.3, bafB), ...spread(112, 140, -0.3, bafB), ...spread(140, 198, 0.05, both(tightA, quietC), 5), ...spread(210, 270, 0, tightA, 5), ...spread(270, 369, 0, both(quietB, tightA), 5)] },
  { rect: [1831, 903.3, 1983, 956.7], kind: "BAF", xr: XR3, cent: centromereP3, sep: 204, segs: [[0, 60, 0.49, BLK], [0, 60, 0.51, BLK], [60, 90, 0.63, RED], [60, 90, 0.37, RED], [90, 112, 0.5, BLK], [112, 140, 0.63, RED], [112, 140, 0.36, RED], [140, 198, 0.49, BLK], [140, 198, 0.51, BLK], [210, 270, 0.49, BLK], [210, 270, 0.51, BLK], [270, 369, 0.92, RED], [270, 369, 0.07, RED]], gray: [...spread(0, 60, 0.5, bafB), ...spread(60, 90, 0.63, bafC), ...spread(60, 90, 0.37, bafC), ...spread(112, 140, 0.63, bafC), ...spread(112, 140, 0.36, bafC), ...spread(140, 198, 0.5, bafB), ...spread(210, 270, 0.5, bafB)] },
];

/* ---------- panel b: VAF ---------- */
function makeVAF(s: any) {
  return ({ ml, mr, mt, mb }: any) => {
    const ribbons = s.start.map((v: number, i: number) => ({
      data: [{ x: 0, y: v }, { x: s.end0, y: s.end[i] }],
      showLine: true, borderColor: "rgba(55,60,60,0.72)", borderWidth: 7.5, pointRadius: 0, borderCapStyle: "butt",
    }));
    const circ = {
      data: [...s.start, ...(s.extraStart || [])].map((y: number) => ({ x: 0, y })).concat([...s.end, ...(s.extraEnd || [])].map((y: number) => ({ x: s.end0, y }))),
      pointRadius: 4.6, backgroundColor: "#fff", borderColor: "#000", borderWidth: 1.7,
    };
    const tri = (x: number, c: string) => ({ data: [{ x, y: s.triY }], pointStyle: "triangle", rotation: 180, pointRadius: 6.5, backgroundColor: c, borderWidth: 0 });
    return {
      type: "scatter",
      data: { datasets: [tri(0, "#1E90FF"), tri(s.end0, "#FF0000"), circ, ...ribbons] },
      options: baseOptions(
        {
          x: axis({ min: s.xr[0], max: s.xr[1], ticks: s.xt, fit: mb, size: 14, tickLen: 4, pad: 3, label: (v: number) => num(v, 0) }),
          y: axis({ min: s.yr[0], max: s.yr[1], ticks: s.yt, fit: ml, size: 14, tickLen: 4, pad: 3, label: (v: number) => num(v, s.dec) }),
        },
        { top: mt, right: mr },
        { shade: { x1: s.end0, yTop: s.shadeTop } },
      ),
      plugins: [shadePlugin],
    };
  };
}

/* ---------- panel b: blood counts ---------- */
function makeBlood(s: any) {
  return ({ ml, mr, mt, mb }: any) => ({
    type: "scatter",
    data: {
      datasets: [
        {
          data: xy(s.t, s.v), showLine: true, borderColor: s.color, borderWidth: 2.2, pointRadius: 3.3, backgroundColor: s.color, pointBorderWidth: 0, clip: false,
        },
      ],
    },
    options: baseOptions(
      {
        x: axis({ min: s.xr[0], max: s.xr[1], ticks: s.xt, fit: mb, size: 14, tickLen: 4, pad: 3, label: (v: number) => num(v, 0) }),
        y: axis({ min: s.yr[0], max: s.yr[1], ticks: s.yt, fit: ml, size: 14, tickLen: 3, pad: 2.5, label: (v: number) => num(v, s.dec) }),
      },
      { top: mt, right: mr },
      { shade: { x1: s.shade } },
    ),
    plugins: [shadePlugin],
  });
}

const rowsY1 = [[1015.3, 1077.7], [1120.7, 1183.3]];
const rowsY3 = [[1014, 1076], [1119.7, 1181.7]];
const bloodLayouts = [
  { cols: [[56, 176.5, 102.5], [211.5, 335.4, 258], [366.6, 490.5, 413.6], [526, 650.3, 573]], rows: rowsY1, ppm: 4.18, shade: 11.55, xt: [-10, 0, 10], t: monthsP1, vals: [hbP1, lymP1, mcvP1, monoP1, neutP1, pltP1, rdwP1, wbcP1] },
  { cols: [[722, 842.5, 748.9], [874.5, 995.4, 901.4], [1038.6, 1159, 1065.5], [1195, 1316, 1222]], rows: rowsY1, ppm: 1.86, shade: 38.1, xt: [0, 20, 40], t: monthsP2, vals: [hbP2, lymP2, mcvP2, monoP2, neutP2, pltP2, rdwP2, wbcP2] },
  { cols: [[1389, 1513.5, 1422], [1545.7, 1669.8, 1578.8], [1706, 1830.3, 1739], [1858.7, 1982.8, 1892]], rows: rowsY3, ppm: 3.26, shade: 20.7, xt: [-10, 0, 10, 20], t: monthsP3, vals: [hbP3, lymP3, mcvP3, monoP3, neutP3, pltP3, rdwP3, wbcP3] },
];
const bloodRanges: [number, number, number[], number][][] = [
  [[6.27, 13.28, [8, 10, 12], 0], [0.28, 0.83, [0.3, 0.4, 0.5, 0.6, 0.7, 0.8], 1], [97.3, 112.9, [100, 104, 108, 112], 0], [-0.03, 0.95, [0, 0.25, 0.5, 0.75], 2], [0, 10.5, [0, 2.5, 5, 7.5, 10], 1], [55.6, 317, [100, 150, 200, 250, 300], 0], [14.17, 20.65, [16, 18, 20], 0], [0.44, 12.2, [3, 6, 9, 12], 0]],
  [[11.28, 15.63, [12, 13, 14, 15], 0], [0.55, 1.66, [0.6, 0.8, 1, 1.2, 1.4, 1.6], 1], [97.4, 108.6, [97.5, 100, 102.5, 105, 107.5], 1], [0.387, 0.716, [0.4, 0.5, 0.6, 0.7], 1], [0.98, 11.5, [3, 6, 9], 0], [53, 142, [60, 80, 100, 120, 140], 0], [14, 17.05, [14, 15, 16, 17], 0], [2.6, 12.9, [5, 7.5, 10, 12.5], 1]],
  [[5.8, 13.8, [6, 8, 10, 12], 0], [0.175, 0.93, [0.2, 0.4, 0.6, 0.8], 1], [84.5, 101.8, [85, 90, 95, 100], 0], [-0.01, 0.52, [0, 0.1, 0.2, 0.3, 0.4, 0.5], 1], [-0.35, 20.8, [0, 5, 10, 15, 20], 0], [-2, 270, [0, 100, 200], 0], [12.9, 21.5, [15, 17.5, 20], 1], [0, 22.2, [0, 5, 10, 15, 20], 0]],
];

const vafPanels = [
  { rect: [254, 846, 436.7, 958.3], xr: [-3.47, 15], xt: [0, 5, 10, 15], yr: [-0.06, 1.39], yt: [0, 0.5, 1], dec: 1, end0: 11.6, shadeTop: 1.21, triY: 1.19, start: vafP1Start, end: vafP1End, extraEnd: vafP1ExtraEnd },
  { rect: [923.2, 846, 1106.5, 958.3], xr: [-11.4, 49.9], xt: [-10, 0, 10, 20, 30, 40], yr: [-0.043, 0.93], yt: [0, 0.25, 0.5, 0.75], dec: 2, end0: 38.2, shadeTop: 0.806, triY: 0.794, start: vafP2Start, end: vafP2End },
  { rect: [1586.8, 844.3, 1770, 956.7], xr: [-6.16, 26.8], xt: [0, 10, 20], yr: [-0.06, 1.39], yt: [0, 0.5, 1], dec: 1, end0: 20.7, shadeTop: 1.21, triY: 1.19, start: vafP3Start, end: vafP3End, extraStart: vafP3ExtraStart, extraEnd: vafP3ExtraEnd },
];

/* ---------- page ---------- */
function UpTri({ x, y }: any) {
  return (
    <>
      <div style={{ position: "absolute", left: x - 6, top: y - 6, width: 0, height: 0, borderLeft: "6px solid transparent", borderRight: "6px solid transparent", borderBottom: "11px solid #555" }} />
      <div style={{ position: "absolute", left: x - 4, top: y - 2, width: 0, height: 0, borderLeft: "4px solid transparent", borderRight: "4px solid transparent", borderBottom: "7px solid #f00" }} />
    </>
  );
}

function Bracket({ x, top, bottom }: any) {
  return <div style={{ position: "absolute", left: x, top, width: 8, height: bottom - top, borderLeft: "3px solid #000", borderTop: "3px solid #000", borderBottom: "3px solid #000", boxSizing: "border-box" }} />;
}

export default function App() {
  const blood: any[] = [];
  const bloodText: any[] = [];
  bloodLayouts.forEach((L, p) => {
    L.vals.forEach((v, i) => {
      const [l, r, z] = L.cols[i % 4];
      const [t, b] = L.rows[i < 4 ? 0 : 1];
      const [y0, y1, yt, dec] = bloodRanges[p][i];
      const spec = { t: L.t, v, color: bloodColors[i], xr: [(l - z) / L.ppm, (r - z) / L.ppm], xt: L.xt, yr: [y0, y1], yt, dec, shade: L.shade };
      blood.push(<Box key={`b${p}${i}`} rect={[l, t, r, b]} m={[50, 10, 20, 26]} make={makeBlood(spec)} />);
      bloodText.push(<T key={`bt${p}${i}`} x={(l + r) / 2} y={t - 10.5} s={9.5}>{bloodNames[i]}</T>);
    });
  });

  return (
    <div style={{ position: "absolute", left: 0, top: 0, width: 1984, height: 1202, overflow: "hidden", background: "#fff", fontFamily: FONT }}>
      {/* panel a */}
      <T x={52} y={14} s={40} b a="l">a</T>
      <T x={1266} y={11.6} s={40} b a="l">c</T>
      <T x={1262} y={557} s={40} b a="l">d</T>
      <T x={49} y={800} s={40} b a="l">b</T>
      {groupNames.map((g, i) => <T key={g} x={groupLabelX[i]} y={8.5} s={12}>{g}</T>)}
      <Box rect={[170, 17, 1049, 37]} m={[0, 0, 10, 2]} make={makeStrip} />
      <Box rect={[170, 39, 1049, 753.5]} m={[100, 14, 10, 14]} make={makeOnco} />
      <Bracket x={64} top={41} bottom={355} />
      <Bracket x={64} top={368} bottom={746} />
      <T x={46} y={205} s={19.5} r={-90}>Gene mutations</T>
      <T x={46} y={570} s={20} r={-90}>Chromosomal alterations</T>

      <T x={1084} y={219.5} s={23} a="l">Years to</T>
      <T x={1084} y={245} s={23} a="l">diagnosis</T>
      {yearLegend.map((t, i) => (
        <React.Fragment key={t}>
          <R x={1086} y={270.4 + i * 18.05} w={7} h={12} c={yearLegendColors[i]} />
          <T x={1108} y={276.4 + i * 18.05} s={19} a="l">{t}</T>
        </React.Fragment>
      ))}
      <T x={1085} y={410} s={23} a="l">Mutation</T>
      {mutLegend.map((t, i) => (
        <React.Fragment key={t}>
          <R x={1088} y={435 + i * 18.2} w={7} h={12} c={mutColors[i]} />
          <T x={1109} y={441 + i * 18.2} s={19} a="l">{t}</T>
        </React.Fragment>
      ))}

      {/* panel c */}
      <Box rect={[1380.7, 8.3, 1873.8, 336.4]} m={[60, 8, 30, 200]} make={makeKM} />
      <T x={1477.6} y={18} s={19}>CH</T>
      {kmNames.map((n, i) => (
        <React.Fragment key={n}>
          <R x={1395} y={46.2 + i * 20.45} w={33} h={3.4} c={kmColors[i]} />
          <T x={1443} y={47.8 + i * 20.45} s={19} a="l">{n}</T>
        </React.Fragment>
      ))}
      <T x={1301} y={172} s={19} r={-90}>Cumulative Incidence</T>
      <T x={1627.6} y={416.5} s={18.6}>Years from blooddraw</T>
      <T x={1353} y={430} s={19} a="l">CH</T>

      {/* panel d */}
      <Box rect={[1518, 565, 1871, 715]} m={[250, 20, 20, 30]} make={makeForest} />
      <T x={1695} y={756} s={22}>HR</T>

      {/* panel b */}
      <T x={132} y={802.7} s={16}>CH</T>
      <T x={346} y={802.7} s={15.6}>P−0006225(Male)</T>
      <T x={574} y={802.7} s={16}>MDS</T>
      <T x={797} y={802.7} s={16}>CH</T>
      <T x={1014.7} y={802.7} s={15.6}>P−0005328(Male)</T>
      <T x={1240} y={802.7} s={16}>MDS</T>
      <T x={1464.8} y={801} s={16}>CH</T>
      <T x={1678.3} y={801} s={15.6}>P−0002903(Female)</T>
      <T x={1906.5} y={801} s={16}>MDS</T>

      <T x={132} y={833} s={16}>7</T>
      <T x={574} y={833} s={16}>7</T>
      <T x={781.8} y={833} s={16}>2</T>
      <T x={858.3} y={833} s={16}>20</T>
      <T x={1224} y={833} s={16}>2</T>
      <T x={1300} y={833} s={16}>20</T>
      <T x={1430.5} y={831.7} s={16}>3</T>
      <T x={1507} y={831.7} s={16}>7</T>
      <T x={1872.7} y={831.7} s={16}>3</T>
      <T x={1949.3} y={831.7} s={16}>7</T>

      {[[7.3, 872.7, 931], [448.7, 872.7, 931], [672.8, 872.7, 931], [1115, 872.7, 931], [1340, 871, 929.5], [1781.6, 871, 929.5]].map(([x, a, b], i) => (
        <React.Fragment key={i}>
          <T x={x} y={a} s={16.5} r={-90}>logR</T>
          <T x={x} y={b} s={16.5} r={-90}>BAF</T>
        </React.Fragment>
      ))}

      {cnPanels.map((s, i) => <Box key={`cn${i}`} rect={s.rect} m={[50, 10, 6, 12]} make={makeCN(s)} />)}
      {vafPanels.map((s, i) => <Box key={`vaf${i}`} rect={s.rect} m={[46, 12, 14, 26]} make={makeVAF(s)} />)}

      <T x={218} y={901.7} s={12} r={-90}>VAF</T>
      <T x={880.5} y={902} s={12} r={-90}>VAF</T>
      <T x={1550.8} y={900} s={12} r={-90}>VAF</T>
      <T x={346} y={986.7} s={12}>Months since blood draw</T>
      <T x={1014.7} y={986.7} s={12}>Months since blood draw</T>
      <T x={1678.3} y={985} s={12}>Months since blood draw</T>

      <T x={288.4} y={851} s={11} c="#1E90FF">blooddraw</T>
      <T x={403.4} y={851} s={11} c="#FF0000">diagnosis</T>
      <T x={957.4} y={851} s={11} c="#1E90FF">blooddraw</T>
      <T x={1072} y={851} s={11} c="#FF0000">diagnosis</T>
      <T x={1621} y={849.3} s={11} c="#1E90FF">blooddraw</T>
      <T x={1735.9} y={849.3} s={11} c="#FF0000">diagnosis</T>

      <T x={285} y={908.3} s={9} a="r">{vafP1Genes[0]}</T>
      <T x={285} y={921.7} s={9} a="r">{vafP1Genes[1]}</T>
      <T x={283.3} y={936.7} s={9} a="r">{vafP1Genes[2]}</T>
      <T x={406} y={872.7} s={9} a="l">{vafP1Genes[0]}</T>
      <T x={406} y={908} s={9} a="l">{vafP1Genes[1]}</T>
      <T x={406.8} y={921.7} s={9} a="l">{vafP1Genes[2]}</T>
      <T x={954} y={896.7} s={9} a="r">{vafP2Genes[0]}</T>
      <T x={1075.3} y={900.7} s={9} a="l">{vafP2Genes[0]}</T>
      <T x={1617.3} y={894} s={9} a="r">{vafP3Genes[0]}</T>
      <T x={1617.3} y={909.3} s={9} a="r" b>{vafP3Genes[1]}</T>
      <T x={1616.5} y={948.3} s={9} a="r">{vafP3Genes[3]}</T>
      <T x={1738.4} y={875.3} s={9} a="l">{vafP3Genes[0]}</T>
      <T x={1738.4} y={909.3} s={9} a="l" b>{vafP3Genes[1]}</T>
      <T x={1738.4} y={927.3} s={9} a="l">{vafP3Genes[3]}</T>

      <UpTri x={737.3} y={968} />
      <UpTri x={1180.4} y={968} />
      <T x={737.3} y={982.3} s={14}>DNMT3A</T>
      <T x={1183.4} y={982.3} s={14}>DNMT3A</T>

      <T x={6.4} y={1099} s={17} r={-90}>Count</T>
      <T x={671.5} y={1099} s={17} r={-90}>Count</T>
      <T x={1340} y={1097.5} s={17} r={-90}>Count</T>
      {blood}
      {bloodText}
    </div>
  );
}
